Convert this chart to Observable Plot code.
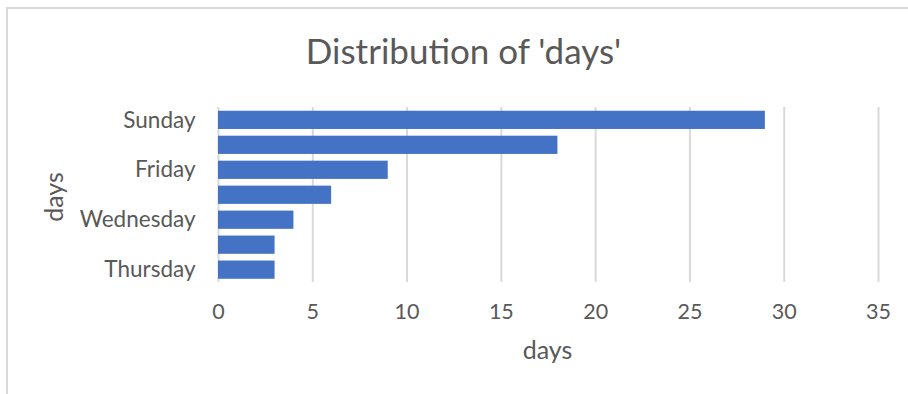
<!DOCTYPE html>
<html>
<head>
<meta charset="utf-8">
<script src="https://cdn.jsdelivr.net/npm/d3@7"></script>
<script src="https://cdn.jsdelivr.net/npm/@observablehq/plot@0.6"></script>
<style>
  html, body { margin: 0; padding: 0; background: #fff; }
  #wrap { position: relative; width: 908px; height: 394px; overflow: hidden; font-family: Lato, "Open Sans", sans-serif; color: #595959; }
  #border { position: absolute; left: 6px; top: 7px; width: 960px; height: 500px; border-left: 2px solid #d9d9d9; border-top: 2px solid #d9d9d9; }
  #title { position: absolute; left: 0; top: 28.5px; width: 927px; text-align: center; font-size: 35px; line-height: 1.2; white-space: nowrap; }
  #xlabel { position: absolute; left: 447.5px; width: 200px; top: 334px; text-align: center; font-size: 25px; line-height: 1.2; }
  #ylabel { position: absolute; left: 53px; top: 197px; transform: translate(-50%, -50%) rotate(-90deg); font-size: 25px; line-height: 1.2; white-space: nowrap; }
  #chart { position: absolute; left: 0; top: 0; }
  #chart svg [aria-label="y-axis tick label"] { font-size: 22.5px; }
</style>
</head>
<body>
<div id="wrap">
  <div id="border"></div>
  <div id="chart"></div>
  <div id="title">Distribution of 'days'</div>
  <div id="xlabel">days</div>
  <div id="ylabel">days</div>
</div>
<script>
const categories = ["Sunday", "Saturday", "Friday", "Monday", "Wednesday", "Tuesday", "Thursday"];
const counts = [29, 18, 9, 6, 4, 3, 3];
const xTicks = [0, 5, 10, 15, 20, 25, 30, 35];
const shownLabels = ["Sunday", "Friday", "Wednesday", "Thursday"];

const data = categories.map((c, i) => ({day: c, value: counts[i]}));

const chart = Plot.plot({
  width: 908,
  height: 394,
  marginLeft: 218,
  marginRight: 30,
  marginTop: 104,
  marginBottom: 108.5,
  style: {fontFamily: "Lato, 'Open Sans', sans-serif", fontSize: "21.5px", color: "#595959", background: "transparent"},
  x: {domain: [0, 35], ticks: xTicks, grid: false, label: null, tickSize: 0, tickPadding: 18},
  y: {domain: categories, padding: 0.27, round: false, label: null, tickSize: 0, tickPadding: 23,
      tickFormat: d => shownLabels.includes(d) ? d : ""},
  marks: [
    Plot.ruleX(xTicks, {stroke: "#d9d9d9", strokeWidth: 2, insetTop: 3, insetBottom: 3.5}),
    Plot.barX(data, {x: "value", y: "day", fill: "#4472C4"})
  ]
});
document.getElementById("chart").appendChild(chart);
</script>
</body>
</html>
